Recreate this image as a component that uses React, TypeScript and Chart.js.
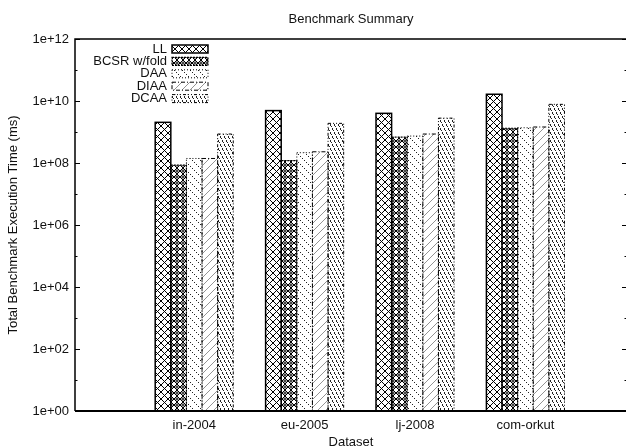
import React, { useEffect, useRef } from 'react';
import { Chart, registerables } from 'chart.js';

Chart.register(...registerables);

const categories = ['in-2004', 'eu-2005', 'lj-2008', 'com-orkut'];
const categoryPositions = [0, 1, 2, 3];
const seriesNames = ['LL', 'BCSR w/fold', 'DAA', 'DIAA', 'DCAA'];
const llValues = [2.05e9, 4.9e9, 4.0e9, 1.65e10];
const bcsrValues = [8.5e7, 1.2e8, 6.8e8, 1.32e9];
const daaValues = [1.4e8, 2.15e8, 7.4e8, 1.37e9];
const diaaValues = [1.4e8, 2.3e8, 8.6e8, 1.45e9];
const dcaaValues = [8.6e8, 1.9e9, 2.8e9, 7.8e9];
const yTickValues = [1e0, 1e2, 1e4, 1e6, 1e8, 1e10, 1e12];
const yTickLabels = ['1e+00', '1e+02', '1e+04', '1e+06', '1e+08', '1e+10', '1e+12'];
const titleText = 'Benchmark Summary';
const xTitle = 'Dataset';
const yTitle = 'Total Benchmark Execution Time (ms)';

const FONT = '"Liberation Sans", Arial, Helvetica, sans-serif';
const FS = 13;
const TEXT = '#111';

function makePattern(kind: string): CanvasPattern | string {
  const c = document.createElement('canvas');
  const ctx = c.getContext('2d');
  if (!ctx) return '#fff';
  if (kind === 'LL') {
    c.width = 7; c.height = 7;
    ctx.fillStyle = '#fff'; ctx.fillRect(0, 0, 7, 7);
    ctx.strokeStyle = '#000'; ctx.lineWidth = 1;
    ctx.beginPath();
    ctx.moveTo(0, 0); ctx.lineTo(7, 7);
    ctx.moveTo(7, 0); ctx.lineTo(0, 7);
    ctx.stroke();
  } else if (kind === 'BCSR') {
    c.width = 6; c.height = 6;
    ctx.fillStyle = '#fff'; ctx.fillRect(0, 0, 6, 6);
    ctx.strokeStyle = '#000'; ctx.lineWidth = 1;
    ctx.beginPath();
    ctx.moveTo(3, 0); ctx.lineTo(6, 3); ctx.lineTo(3, 6); ctx.lineTo(0, 3); ctx.closePath();
    ctx.stroke();
    ctx.beginPath();
    ctx.arc(3, 3, 1.1, 0, Math.PI * 2);
    ctx.stroke();
  } else if (kind === 'DAA') {
    c.width = 8; c.height = 8;
    ctx.fillStyle = '#fff'; ctx.fillRect(0, 0, 8, 8);
    ctx.fillStyle = '#222';
    for (let i = 0; i < 8; i += 2) ctx.fillRect(i, i, 1, 1);
  } else if (kind === 'DIAA') {
    c.width = 8; c.height = 8;
    ctx.fillStyle = '#fff'; ctx.fillRect(0, 0, 8, 8);
    ctx.strokeStyle = '#666'; ctx.lineWidth = 0.7;
    ctx.beginPath();
    ctx.moveTo(0, 8); ctx.lineTo(8, 0);
    ctx.stroke();
  } else {
    c.width = 4; c.height = 8;
    ctx.fillStyle = '#fff'; ctx.fillRect(0, 0, 4, 8);
    ctx.fillStyle = '#222';
    for (let y = 0; y < 8; y++) {
      if (y % 4 === 3) continue;
      ctx.fillRect(Math.floor(y / 2), y, 1, 1);
    }
  }
  return ctx.createPattern(c, 'repeat') || '#fff';
}

const outlineDash: number[][] = [[], [2, 1], [1, 2], [4, 2, 1, 2], [3, 2, 1, 2, 1, 2]];
const outlineWidth = [1.5, 1.2, 1, 1, 1];

export default function App() {
  const ref = useRef<HTMLCanvasElement>(null);
  useEffect(() => {
    if (!ref.current) return;
    const patterns = [makePattern('LL'), makePattern('BCSR'), makePattern('DAA'), makePattern('DIAA'), makePattern('DCAA')];
    const seriesValues = [llValues, bcsrValues, daaValues, diaaValues, dcaaValues];

    const outlinePlugin = {
      id: 'outlines',
      afterDatasetsDraw(chart: any) {
        const ctx = chart.ctx;
        chart.data.datasets.forEach((_ds: any, di: number) => {
          const meta = chart.getDatasetMeta(di);
          meta.data.forEach((el: any) => {
            const p = el.getProps(['x', 'y', 'base', 'width'], true);
            ctx.save();
            ctx.strokeStyle = '#000';
            ctx.lineWidth = outlineWidth[di];
            ctx.setLineDash(outlineDash[di]);
            ctx.strokeRect(p.x - p.width / 2, p.y, p.width, p.base - p.y);
            ctx.restore();
          });
        });
      },
    };

    const framePlugin = {
      id: 'frame',
      afterDraw(chart: any) {
        const ctx = chart.ctx;
        const a = chart.chartArea;
        const ys = chart.scales.y;
        ctx.save();
        ctx.strokeStyle = '#000';
        ctx.lineWidth = 1.5;
        ctx.beginPath();
        ctx.moveTo(a.left, a.bottom); ctx.lineTo(a.left, a.top); ctx.lineTo(a.right, a.top); ctx.lineTo(a.right, a.bottom);
        ctx.stroke();
        ctx.lineWidth = 2;
        ctx.beginPath();
        ctx.moveTo(a.left, a.bottom); ctx.lineTo(a.right, a.bottom);
        ctx.stroke();
        ctx.lineWidth = 1;
        for (let e = 0; e <= 12; e++) {
          const y = Math.round(ys.getPixelForValue(Math.pow(10, e))) + 0.5;
          const len = e % 2 === 0 ? 5 : 2.5;
          ctx.beginPath();
          ctx.moveTo(a.left, y); ctx.lineTo(a.left + len, y);
          ctx.moveTo(a.right, y); ctx.lineTo(a.right - len, y);
          ctx.stroke();
        }
        // legend
        const legendRight = 167;
        const top = 49;
        const step = 12.4;
        ctx.font = `${FS}px ${FONT}`;
        ctx.textAlign = 'right';
        ctx.textBaseline = 'middle';
        chart.data.datasets.forEach((ds: any, i: number) => {
          const y = top + i * step;
          ctx.fillStyle = TEXT;
          ctx.fillText(ds.label, legendRight, y);
          ctx.fillStyle = ds.backgroundColor;
          ctx.fillRect(172, y - 4, 36, 8);
          ctx.save();
          ctx.strokeStyle = '#000';
          ctx.lineWidth = outlineWidth[i];
          ctx.setLineDash(outlineDash[i]);
          ctx.strokeRect(172, y - 4, 36, 8);
          ctx.restore();
        });
        ctx.restore();
      },
    };

    const chart = new Chart(ref.current, {
      type: 'bar',
      data: {
        datasets: seriesNames.map((name, i) => ({
          label: name,
          data: seriesValues[i].map((v, j) => ({ x: categoryPositions[j], y: v })),
          backgroundColor: patterns[i] as any,
          borderWidth: 0,
          barPercentage: 1,
          categoryPercentage: 0.707,
        })),
      },
      options: {
        responsive: false,
        animation: false,
        layout: { padding: { left: 0, right: 13, top: 0, bottom: 0 } },
        plugins: {
          legend: { display: false },
          tooltip: { enabled: false },
          title: {
            display: true,
            text: titleText,
            fullSize: false,
            color: TEXT,
            font: { family: FONT, size: FS, weight: 'normal', lineHeight: 1.2 },
            padding: { top: 11.5, bottom: 11.9 },
          },
        },
        scales: {
          x: {
            type: 'linear',
            min: -1.08,
            max: 3.92,
            offset: false,
            grid: { display: false, drawTicks: false },
            border: { display: false },
            afterFit: (s: any) => { s.height = 39; },
            afterBuildTicks: (s: any) => { s.ticks = categoryPositions.map((v) => ({ value: v })); },
            ticks: {
              autoSkip: false,
              maxRotation: 0,
              minRotation: 0,
              padding: 7,
              color: TEXT,
              font: { family: FONT, size: FS },
              callback: (_v: any, i: number) => categories[i],
            },
            title: {
              display: true,
              text: xTitle,
              color: TEXT,
              font: { family: FONT, size: FS },
              padding: { top: 0, bottom: 0 },
            },
          },
          y: {
            type: 'logarithmic',
            min: 1,
            max: 1e12,
            grid: { display: false, drawTicks: false },
            border: { display: false },
            afterFit: (s: any) => { s.width = 75; },
            afterBuildTicks: (s: any) => { s.ticks = yTickValues.map((v) => ({ value: v })); },
            ticks: {
              autoSkip: false,
              padding: 6,
              color: TEXT,
              font: { family: FONT, size: FS },
              callback: (_v: any, i: number) => yTickLabels[i],
            },
            title: {
              display: true,
              text: yTitle,
              color: TEXT,
              font: { family: FONT, size: FS },
              padding: { top: 6, bottom: 0 },
            },
          },
        },
      },
      plugins: [outlinePlugin, framePlugin],
    } as any);
    return () => chart.destroy();
  }, []);

  return (
    <div style={{ position: 'fixed', left: 0, top: 0, width: 626, height: 447, overflow: 'hidden', background: '#fff' }}>
      <canvas ref={ref} width={640} height={450} style={{ display: 'block' }} />
    </div>
  );
}
